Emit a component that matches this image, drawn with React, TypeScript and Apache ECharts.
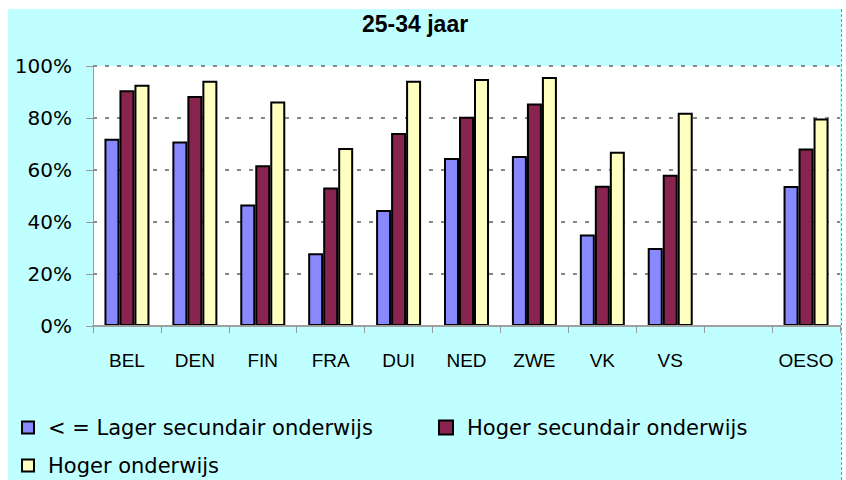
import React, { useEffect, useRef } from "react";
import * as echarts from "echarts";

const categories = ["BEL", "DEN", "FIN", "FRA", "DUI", "NED", "ZWE", "VK", "VS", "", "OESO"];
const seriesNames = ["< = Lager secundair onderwijs", "Hoger secundair onderwijs", "Hoger onderwijs"];
const lagerSec = [72, 71, 46.7, 28, 44.6, 64.6, 65.4, 35.2, 30, null, 53.8];
const hogerSec = [90.7, 88.5, 61.8, 53.3, 74.2, 80.5, 85.6, 53.9, 58.2, null, 68.3];
const hogerOnd = [92.8, 94.3, 86.3, 68.5, 94.3, 95, 95.8, 67, 82, null, 79.8];
const yTicks = [0, 20, 40, 60, 80, 100];
const colors = ["#8888FF", "#88244F", "#FFFFC0"];

export default function App() {
  const ref = useRef<HTMLDivElement>(null);
  useEffect(() => {
    if (!ref.current) return;
    const chart = echarts.init(ref.current, null, { renderer: "svg" });
    const values = [lagerSec, hogerSec, hogerOnd];
    const legendText = { fontFamily: "DejaVu Sans", fontSize: 21, color: "#000", padding: [0, 0, 0, 9] };
    chart.setOption({
      animation: false,
      backgroundColor: "#BFFFFF",
      title: {
        text: "25-34 jaar",
        left: 354,
        top: 3,
        padding: 0,
        textStyle: { fontFamily: "Liberation Sans", fontWeight: "bold", fontSize: 23, color: "#000" },
      },
      grid: {
        left: 85,
        right: 1,
        top: 57,
        bottom: 154,
        show: true,
        backgroundColor: "#FFFFFF",
        borderWidth: 0,
      },
      legend: [
        {
          data: [seriesNames[0]],
          left: 13,
          top: 408,
          padding: 0,
          icon: "rect",
          itemWidth: 12,
          itemHeight: 12,
          textStyle: legendText,
        },
        {
          data: [seriesNames[1]],
          left: 430,
          top: 408,
          padding: 0,
          icon: "rect",
          itemWidth: 14,
          itemHeight: 14,
          textStyle: legendText,
        },
        {
          data: [seriesNames[2]],
          left: 13,
          top: 446,
          padding: 0,
          icon: "rect",
          itemWidth: 12,
          itemHeight: 12,
          textStyle: legendText,
        },
      ],
      xAxis: {
        type: "category",
        data: categories,
        z: 5,
        axisLine: { show: true, lineStyle: { color: "#a0a0a0", width: 2 } },
        axisTick: { show: true, length: 7, lineStyle: { color: "#999" } },
        axisLabel: {
          interval: 0,
          margin: 25,
          fontFamily: "Liberation Sans",
          fontSize: 19,
          color: "#000",
        },
        splitLine: { show: false },
      },
      yAxis: {
        type: "value",
        min: yTicks[0],
        max: yTicks[yTicks.length - 1],
        interval: 20,
        axisLine: { show: true, lineStyle: { color: "#999", width: 1 } },
        axisTick: { show: true, length: 7, lineStyle: { color: "#999" } },
        axisLabel: {
          formatter: "{value}%",
          margin: 21,
          fontFamily: "DejaVu Sans",
          fontSize: 20,
          color: "#000",
        },
        splitLine: { show: true, lineStyle: { color: "#888", width: 2, type: [4, 8] } },
      },
      series: values.map((v, i) => ({
        name: seriesNames[i],
        type: "bar",
        data: v,
        barWidth: 15,
        barGap: "0%",
        itemStyle: { color: colors[i], borderColor: "#000", borderWidth: 2 },
      })),
    });
    return () => chart.dispose();
  }, []);
  return (
    <div style={{ position: "fixed", left: 0, top: 0, width: 846, height: 480, background: "#fff" }}>
      <div
        ref={ref}
        style={{
          position: "absolute",
          left: 8,
          top: 9,
          width: 833,
          height: 471,
          borderRight: "1px dashed #6a9a9a",
        }}
      />
    </div>
  );
}
